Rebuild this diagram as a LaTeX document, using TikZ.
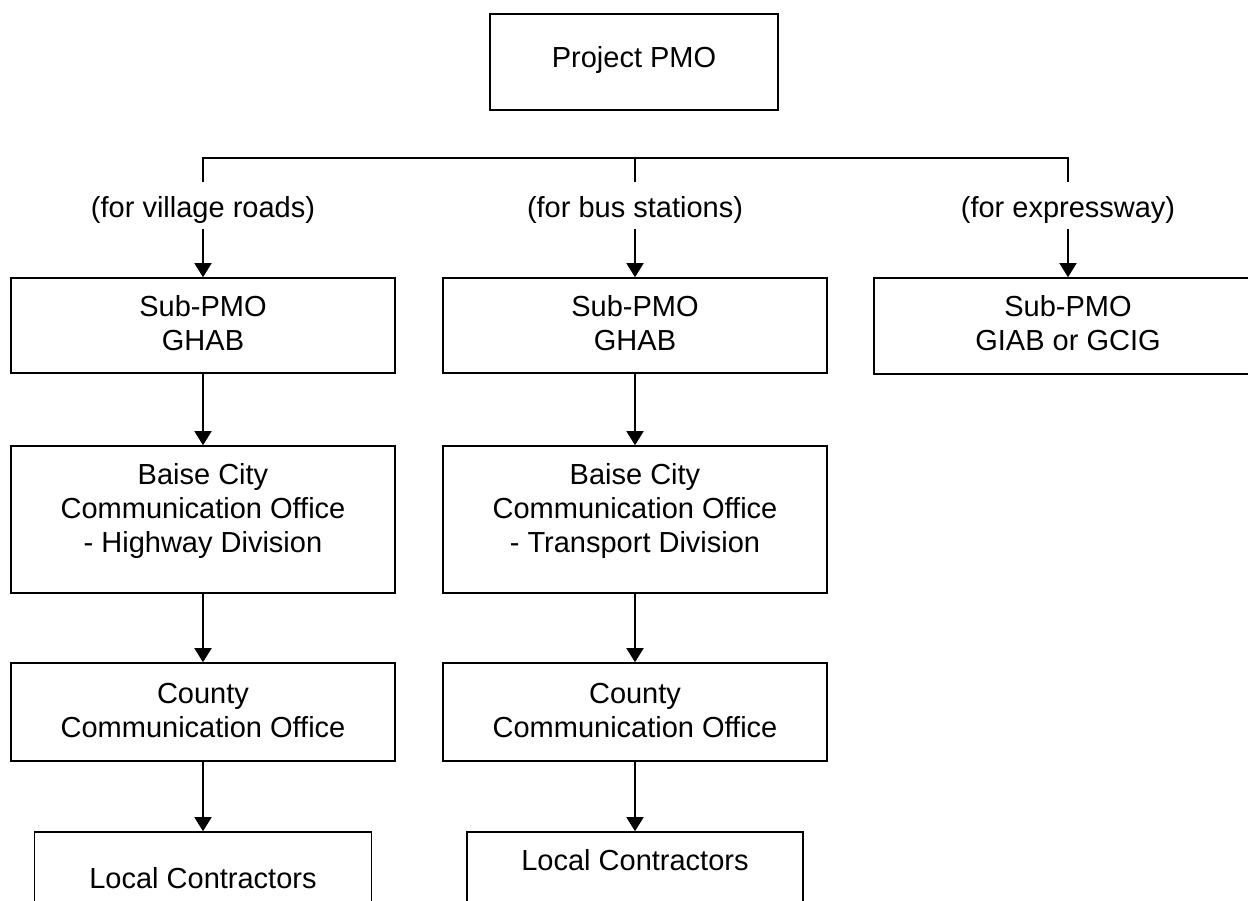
\documentclass[tikz,border=0pt]{standalone}
\usepackage{fontspec}
\setmainfont{Liberation Sans}
\usetikzlibrary{arrows.meta}
\newcommand{\mlines}[1]{\begin{tabular}[t]{@{}c@{}}#1\end{tabular}}
\begin{document}
\begin{tikzpicture}[x=1pt,y=-1pt,
  boxst/.style={draw, line width=1.6pt, inner sep=0pt, minimum width=384pt},
  txt/.style={anchor=base, inner sep=0pt, font=\fontsize{29}{34}\selectfont},
  conn/.style={line width=1.6pt},
  arr/.style={line width=1.6pt, -{Triangle[width=17pt,length=14pt]}}]
\fill[white] (0,0) rectangle (1248,901);
\useasboundingbox (0,0) rectangle (1248,901);

% boxes
\node[boxst, minimum width=288pt, minimum height=96pt] (pmo) at (634,62) {};
\node[boxst, minimum height=95pt] (s1) at (203,325.5) {};
\node[boxst, minimum height=95pt] (s2) at (635,325.5) {};
\node[boxst, minimum width=388pt, minimum height=96pt] (s3) at (1068,326) {};
\node[boxst, minimum height=147pt] (b1) at (203,519.5) {};
\node[boxst, minimum height=147pt] (b2) at (635,519.5) {};
\node[boxst, minimum height=98pt] (c1) at (203,712) {};
\node[boxst, minimum height=98pt] (c2) at (635,712) {};
\node[boxst, minimum width=337pt, minimum height=98pt] (l1) at (203,881) {};
\node[boxst, minimum width=336pt, minimum height=98pt] (l2) at (635,881) {};

% texts
\node[txt] (pmot) at (634,68) {Project PMO};
\node[txt] (lab1) at (203,218) {(for village roads)};
\node[txt] (lab2) at (635,218) {(for bus stations)};
\node[txt] (lab3) at (1068,218) {(for expressway)};
\node[txt] (s1t) at (203,317) {\mlines{Sub-PMO\\GHAB}};
\node[txt] (s2t) at (635,317) {\mlines{Sub-PMO\\GHAB}};
\node[txt] (s3t) at (1068,317) {\mlines{Sub-PMO\\GIAB or GCIG}};
\node[txt] (b1t) at (203,484) {\mlines{Baise City\\Communication Office\\- Highway Division}};
\node[txt] (b2t) at (635,484) {\mlines{Baise City\\Communication Office\\- Transport Division}};
\node[txt] (c1t) at (203,703) {\mlines{County\\Communication Office}};
\node[txt] (c2t) at (635,703) {\mlines{County\\Communication Office}};
\node[txt] (l1t) at (203,888) {Local Contractors};
\node[txt] (l2t) at (635,870) {Local Contractors};

% branch lines
\coordinate (cl) at (203,158);
\coordinate (cm) at (635,158);
\coordinate (cr) at (1068,158);
\coordinate (hl) at (203,182);
\coordinate (hm) at (635,182);
\coordinate (hr) at (1068,182);
\draw[conn] (hl) -- (cl) -- (cr) -- (hr);
\draw[conn] (cm) -- (hm);

% arrows from labels
\coordinate (a1) at (203,229);
\coordinate (a2) at (635,229);
\coordinate (a3) at (1068,229);
\draw[arr] (a1) -- (s1);
\draw[arr] (a2) -- (s2);
\draw[arr] (a3) -- (s3);

% arrows between boxes
\draw[arr] (s1) -- (b1);
\draw[arr] (b1) -- (c1);
\draw[arr] (c1) -- (l1);
\draw[arr] (s2) -- (b2);
\draw[arr] (b2) -- (c2);
\draw[arr] (c2) -- (l2);
\end{tikzpicture}
\end{document}
